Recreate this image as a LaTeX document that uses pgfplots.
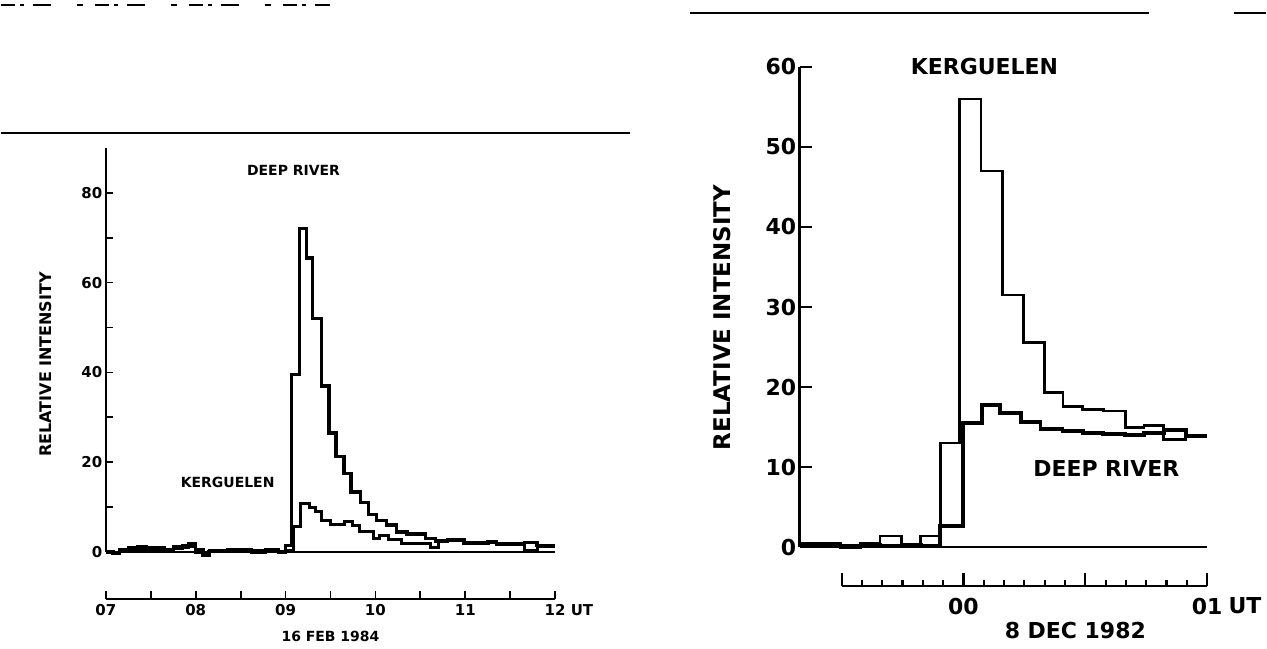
\documentclass[border=0pt]{standalone}
\usepackage{fontspec}
\setmainfont{DejaVu Sans}
\usepackage{pgfplots}
\pgfplotsset{compat=1.18}
\pgfplotstableread{
x y
7.00 0.0
7.08 -0.2
7.15 0.6
7.25 1.0
7.35 0.7
7.45 0.9
7.55 0.3
7.65 0.6
7.75 1.2
7.85 1.0
7.92 1.8
8.00 0.5
8.08 -0.5
8.15 0.2
8.25 0.3
8.35 0.3
8.45 0.5
8.55 0.1
8.62 0.4
8.70 0.0
8.78 0.5
8.85 0.3
8.92 0.0
9.00 1.5
9.064 39.5
9.154 72.0
9.231 65.5
9.303 52.0
9.403 37.0
9.484 26.5
9.561 21.3
9.651 17.5
9.728 13.4
9.832 11.0
9.922 8.4
10.013 7.0
10.126 6.0
10.238 4.5
10.351 4.0
10.555 3.0
10.668 2.5
10.803 2.8
10.984 2.0
11.255 2.3
11.345 1.8
11.661 2.2
11.797 1.5
12.0 1.5
}\deepA
\pgfplotstableread{
x y
7.00 0.0
7.08 -0.3
7.15 0.3
7.25 0.4
7.35 1.2
7.45 0.5
7.55 1.1
7.65 0.2
7.75 0.7
7.85 1.4
7.92 1.2
8.00 0.0
8.08 -0.7
8.15 0.3
8.25 0.3
8.35 0.5
8.45 0.2
8.55 0.5
8.62 0.0
8.70 0.3
8.78 0.2
8.85 0.5
8.92 0.1
9.00 0.3
9.09 5.8
9.17 10.8
9.27 10.0
9.33 9.0
9.40 7.0
9.50 6.2
9.66 6.8
9.75 6.0
9.82 4.5
9.98 3.0
10.05 3.8
10.15 2.8
10.29 2.0
10.61 1.0
10.70 2.5
10.98 2.0
11.25 2.2
11.35 1.8
11.66 0.3
11.80 1.3
12.0 1.3
}\kergA
\pgfplotstableread{
x y
-40 0.4
-30 0.0
-25 0.5
-20.3 1.4
-15 0.3
-10.3 1.4
-5.5 13.0
-0.7 56.0
4.5 47.0
9.7 31.5
14.9 25.6
20.1 19.3
24.6 17.6
29.5 17.2
34.5 17.0
39.9 14.9
44.5 15.2
49.3 13.4
54.8 13.9
60 13.9
}\kergB
\pgfplotstableread{
x y
-40 0.4
-30 0.1
-25 0.3
-20.3 0.2
-15 0.3
-10.3 0.2
-5.5 2.7
0 15.5
4.75 17.8
9.2 16.8
14.2 15.6
19.1 14.8
24.5 14.5
29.5 14.3
34.5 14.1
39.9 14.0
44.5 14.2
49.3 14.6
54.8 13.9
60 13.9
}\deepB
\newcommand{\fa}{\fontsize{14}{14}\selectfont\bfseries}
\newcommand{\ft}{\fontsize{15}{15}\selectfont\bfseries}
\newcommand{\fb}{\fontsize{22}{22}\selectfont\bfseries}
\begin{document}
\begin{tikzpicture}[x=1pt,y=1pt]
\path (0,0) rectangle (1267,650);
\draw[line width=2pt] (0,517) -- (630,517);
\draw[line width=1.5pt, dash pattern=on 14pt off 5pt on 4pt off 9pt on 18pt off 26pt on 6pt off 12pt] (0,645) -- (330,645);
\draw[line width=2pt] (690,637) -- (1150,637);
\draw[line width=2pt] (1235,637) -- (1267,637);
% ---------- left panel ----------
\begin{axis}[at={(105pt,97pt)}, anchor=south west, scale only axis,
  width=450pt, height=405pt, xmin=7, xmax=12, ymin=0, ymax=90, clip=false,
  axis y line=left, axis x line=none, axis line style={-, line width=2.4pt},
  ytick={0,20,40,60,80}, minor ytick={10,30,50,70},
  ytick align=inside, major tick length=7pt, minor tick length=7pt,
  tick style={line width=1.8pt, black},
  yticklabel style={font=\ft},
  /pgf/number format/assume math mode=true]
\addplot[line width=1.6pt] coordinates {(7,0) (12,0)};
\addplot[const plot, line width=3pt] table[x=x,y=y] {\kergA};
\addplot[const plot, line width=3.4pt] table[x=x,y=y] {\deepA};
\end{axis}
\begin{axis}[at={(105pt,50pt)}, anchor=south west, scale only axis,
  width=450pt, height=10pt, xmin=7, xmax=12, ymin=0, ymax=1,
  axis x line=bottom, axis y line=none, axis line style={-, line width=2.4pt},
  xtick={7,8,9,10,11,12}, xticklabels={07,08,09,10,11,12\rlap{\ UT}},
  minor xtick={7.5,8.5,9.5,10.5,11.5},
  xtick align=inside, major tick length=8pt, minor tick length=8pt,
  tick style={line width=1.8pt, black},
  xticklabel style={font=\ft, anchor=center, yshift=-11pt}]
\addplot[draw=none] coordinates {(7,0)};
\end{axis}
\node[rotate=90, font=\fontsize{16}{16}\selectfont\bfseries] at (45,285) {RELATIVE INTENSITY};
\node[font=\fa] at (293,479) {DEEP RIVER};
\node[font=\fa] at (227,167) {KERGUELEN};
\node[font=\fa] at (330,13) {16 FEB 1984};
% ---------- right panel ----------
\begin{axis}[at={(800pt,102pt)}, anchor=south west, scale only axis,
  width=408pt, height=481pt, xmin=-40, xmax=60, ymin=0, ymax=60, clip=false,
  axis y line=left, axis x line=none, axis line style={-, line width=2.8pt},
  ytick={0,10,20,30,40,50,60},
  ytick align=inside, major tick length=12pt,
  tick style={line width=2.4pt, black},
  yticklabel style={font=\fb},
  /pgf/number format/assume math mode=true]
\addplot[line width=2.2pt] coordinates {(-40,0) (60,0)};
\addplot[const plot, line width=2.8pt] table[x=x,y=y] {\kergB};
\addplot[const plot, line width=4pt] table[x=x,y=y] {\deepB};
\end{axis}
\begin{axis}[at={(842pt,63pt)}, anchor=south west, scale only axis,
  width=366pt, height=10pt, xmin=-30, xmax=60, ymin=0, ymax=1,
  axis x line=bottom, axis y line=none, axis line style={-, line width=2.6pt},
  xtick={-30,0,30,60}, xticklabels={,00,,01},
  minor xtick={-25,-20,-15,-10,-5,5,10,15,20,25,35,40,45,50,55},
  xtick align=inside, major tick length=13pt, minor tick length=6pt,
  tick style={line width=2.2pt, black},
  xticklabel style={font=\fb, anchor=center, yshift=-20pt}]
\addplot[draw=none] coordinates {(0,0)};
\end{axis}
\node[font=\fb] at (1246,43) {UT};
\node[rotate=90, font=\fontsize{23}{23}\selectfont\bfseries] at (722,332) {RELATIVE INTENSITY};
\node[font=\fb] at (985,583) {KERGUELEN};
\node[font=\fb] at (1107,181) {DEEP RIVER};
\node[font=\fb] at (1076,18) {8 DEC 1982};
\end{tikzpicture}
\end{document}
